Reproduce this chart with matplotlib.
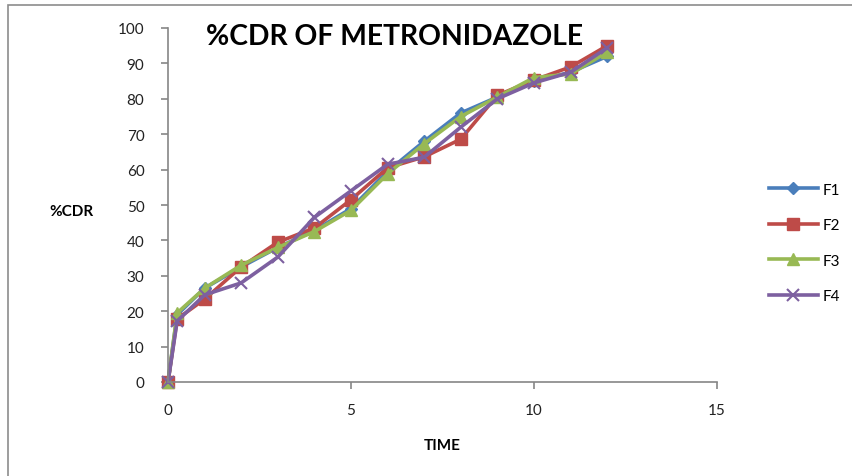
import matplotlib.pyplot as plt
from matplotlib.patches import Rectangle

# dissolution time points and cumulative drug release (%) per formulation
time = [0, 0.25, 1, 2, 3, 4, 5, 6, 7, 8, 9, 10, 11, 12]
f1 = [0, 19, 26.5, 32.5, 38, 42.8, 49, 59.5, 68, 76, 80.5, 85, 87.5, 92]
f2 = [0, 17.8, 23.4, 32.5, 39.5, 43.5, 51.5, 60.5, 63.6, 68.6, 81, 85.3, 89, 95]
f3 = [0, 19.5, 26.5, 33, 38, 42.5, 48.5, 58.8, 67.3, 75, 80.5, 86, 87, 93.2]
f4 = [0, 17.2, 24.6, 28, 35.3, 46.5, 54, 61.5, 63.5, 72, 80, 84.5, 87.5, 94.4]

plt.rcParams['font.family'] = ['Lato', 'DejaVu Sans']

fig = plt.figure(figsize=(8.53, 4.77), dpi=100)
fig.patches.append(Rectangle((8 / 853, -0.1), 1.2, (477 - 6) / 477 + 0.1,
                             transform=fig.transFigure, fill=False,
                             edgecolor='#8c8c8c', linewidth=1.2))

ax = fig.add_axes([168 / 853, 94 / 477, 549 / 853, 354 / 477])

ax.plot(time, f1, color='#4A7EBB', lw=2.6, marker='D', ms=6, label='F1', clip_on=False)
ax.plot(time, f2, color='#BE4B48', lw=2.6, marker='s', ms=8, label='F2', clip_on=False)
ax.plot(time, f3, color='#98B954', lw=2.6, marker='^', ms=9, label='F3', clip_on=False)
ax.plot(time, f4, color='#7D60A0', lw=2.6, marker='x', ms=9, mew=1.5, label='F4', clip_on=False)

ax.set_xlim(0, 15)
ax.set_ylim(0, 100)
ax.set_xticks([0, 5, 10, 15])
ax.set_yticks(range(0, 101, 10))
ax.spines['top'].set_visible(False)
ax.spines['right'].set_visible(False)
for s in ['left', 'bottom']:
    ax.spines[s].set_color('#868686')
    ax.spines[s].set_linewidth(1.2)
ax.tick_params(axis='both', colors='#868686', labelcolor='#222222',
               labelsize=11, length=5, width=1.2)
ax.tick_params(axis='y', pad=12)
ax.tick_params(axis='x', pad=10)

ax.set_xlabel('TIME', fontsize=11, fontweight='bold', labelpad=15)
fig.text(71 / 853, 1 - 212 / 477, '%CDR', fontsize=11, fontweight='bold',
         ha='center', va='center')
fig.text(395 / 853, 1 - 37 / 477, '%CDR OF METRONIDAZOLE', fontsize=20.3,
         fontweight='bold', ha='center', va='center')

fig.legend(loc='upper left', bbox_to_anchor=(755 / 853, 1 - 170 / 477),
           frameon=False, fontsize=11, handlelength=3.2, labelspacing=1.4,
           handletextpad=0.3)

fig.savefig('out.png', dpi=100)
